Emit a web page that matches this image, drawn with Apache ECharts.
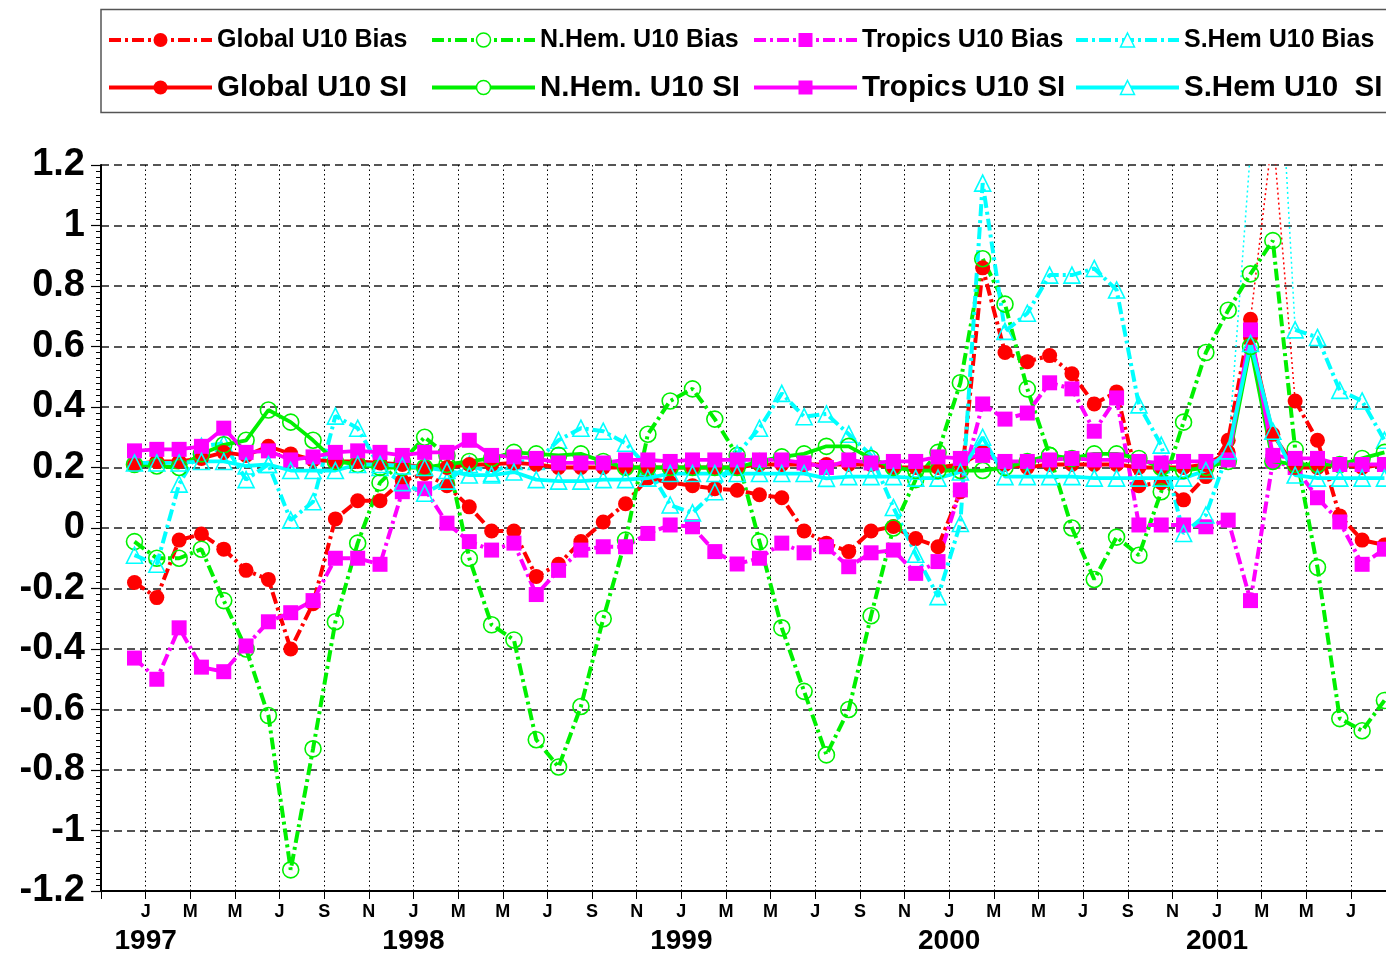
<!DOCTYPE html>
<html><head><meta charset="utf-8">
<script src="https://cdn.jsdelivr.net/npm/echarts@6/dist/echarts.min.js"></script>
<style>html,body{margin:0;padding:0;background:#fff}#c{width:1386px;height:955px}</style>
</head><body><div id="c"></div>
<script>
// ---- data (monthly, first value = Dec 1996, months counted from Jan 1997) ----
const firstMonth = -1;
const monthTickLabels = ['J','F','M','A','M','J','J','A','S','O','N','D'];
const yearLabels = ['1997','1998','1999','2000','2001'];
const yTickValues = [-1.2,-1,-0.8,-0.6,-0.4,-0.2,0,0.2,0.4,0.6,0.8,1,1.2];

const globalBias = [-0.18,-0.23,-0.04,-0.02,-0.07,-0.14,-0.17,-0.40,-0.25,0.03,
 0.09,0.09,0.155,0.18,0.14,0.07,-0.01,-0.01,-0.16,-0.12,
 -0.045,0.02,0.08,0.165,0.15,0.14,0.13,0.125,0.11,0.10,
 -0.01,-0.05,-0.078,-0.01,0.005,-0.035,-0.062,0.12,0.86,0.58,
 0.55,0.57,0.51,0.41,0.45,0.14,0.15,0.093,0.17,0.29,
 0.69,1.31,0.42,0.29,0.04,-0.04,-0.056];
const nhemBias = [-0.045,-0.10,-0.10,-0.07,-0.24,-0.40,-0.62,-1.13,-0.73,-0.31,
 -0.05,0.15,0.22,0.30,0.24,-0.10,-0.32,-0.37,-0.70,-0.79,
 -0.59,-0.30,-0.04,0.31,0.42,0.46,0.36,0.24,-0.045,-0.33,
 -0.54,-0.75,-0.60,-0.29,0.0,0.16,0.25,0.48,0.89,0.74,
 0.46,0.24,0.0,-0.17,-0.03,-0.09,0.12,0.35,0.58,0.72,
 0.84,0.95,0.26,-0.13,-0.63,-0.67,-0.57];
const tropicsBias = [-0.43,-0.50,-0.33,-0.46,-0.475,-0.39,-0.31,-0.28,-0.24,-0.10,
 -0.10,-0.12,0.12,0.13,0.016,-0.045,-0.073,-0.05,-0.22,-0.14,
 -0.073,-0.062,-0.062,-0.018,0.01,0.004,-0.078,-0.119,-0.10,-0.05,
 -0.082,-0.062,-0.128,-0.082,-0.073,-0.15,-0.111,0.126,0.41,0.36,
 0.38,0.48,0.46,0.32,0.43,0.01,0.01,0.01,0.004,0.026,
 -0.24,0.22,0.20,0.10,0.02,-0.12,-0.07];
const shemBias = [-0.09,-0.12,0.145,0.27,0.28,0.16,0.21,0.026,0.087,0.37,
 0.33,0.20,0.15,0.115,0.155,0.21,0.18,0.22,0.22,0.29,
 0.33,0.32,0.28,0.20,0.076,0.05,0.12,0.245,0.33,0.445,
 0.368,0.377,0.31,0.24,0.068,-0.087,-0.227,0.015,1.14,0.65,
 0.71,0.836,0.836,0.858,0.787,0.407,0.274,-0.018,0.043,0.252,
 1.25,2.0,0.655,0.63,0.455,0.42,0.29];
const globalSI = [0.21,0.22,0.22,0.23,0.25,0.24,0.27,0.245,0.225,0.22,
 0.22,0.215,0.21,0.20,0.20,0.21,0.21,0.215,0.21,0.20,
 0.20,0.20,0.20,0.20,0.20,0.20,0.20,0.20,0.21,0.21,
 0.21,0.21,0.21,0.21,0.20,0.20,0.20,0.21,0.25,0.21,
 0.20,0.21,0.21,0.21,0.21,0.20,0.20,0.20,0.21,0.25,
 0.63,0.31,0.20,0.20,0.21,0.20,0.21];
const nhemSI = [0.21,0.205,0.20,0.245,0.275,0.29,0.39,0.35,0.29,0.22,
 0.21,0.20,0.20,0.20,0.21,0.22,0.23,0.25,0.245,0.24,
 0.245,0.22,0.20,0.20,0.20,0.20,0.20,0.20,0.22,0.235,
 0.245,0.27,0.27,0.23,0.20,0.19,0.19,0.19,0.19,0.20,
 0.22,0.24,0.23,0.245,0.245,0.23,0.20,0.19,0.20,0.22,
 0.60,0.22,0.21,0.21,0.21,0.23,0.25];
const tropicsSI = [0.255,0.26,0.26,0.27,0.33,0.25,0.255,0.225,0.235,0.25,
 0.255,0.25,0.24,0.25,0.25,0.29,0.24,0.235,0.23,0.215,
 0.215,0.215,0.225,0.225,0.22,0.225,0.225,0.225,0.225,0.225,
 0.215,0.20,0.225,0.215,0.22,0.22,0.235,0.23,0.24,0.22,
 0.22,0.225,0.23,0.225,0.225,0.22,0.215,0.22,0.22,0.225,
 0.655,0.24,0.23,0.23,0.21,0.21,0.21];
const shemSI = [0.215,0.215,0.215,0.22,0.22,0.205,0.21,0.19,0.19,0.19,
 0.21,0.21,0.205,0.20,0.19,0.175,0.175,0.185,0.16,0.155,
 0.155,0.16,0.16,0.165,0.18,0.18,0.18,0.18,0.18,0.18,
 0.18,0.164,0.17,0.17,0.17,0.165,0.165,0.185,0.30,0.17,
 0.17,0.17,0.17,0.165,0.165,0.165,0.165,0.165,0.19,0.255,
 0.61,0.32,0.175,0.165,0.165,0.165,0.165];

// ---- styling ----
const FONT = '"Liberation Sans", Arial, sans-serif';
const YMIN = -1.2, YMAX = 1.2;
const DASHDOT = [12, 4, 3, 4];
const defs = [
  {name:'Global U10 Bias', values:globalBias, color:'#ff0000', symbol:'circle', size:15, hollow:false, bias:true, col:0},
  {name:'N.Hem. U10 Bias', values:nhemBias, color:'#00f000', symbol:'circle', size:16, hollow:true, bias:true, col:1},
  {name:'Tropics U10 Bias', values:tropicsBias, color:'#ff00ff', symbol:'rect', size:15, hollow:false, bias:true, col:2},
  {name:'S.Hem U10 Bias', values:shemBias, color:'#00ffff', symbol:'triangle', size:16, hollow:true, bias:true, col:3},
  {name:'Global U10 SI', values:globalSI, color:'#ff0000', symbol:'circle', size:15, hollow:false, bias:false, col:0},
  {name:'N.Hem. U10 SI', values:nhemSI, color:'#00f000', symbol:'circle', size:16, hollow:true, bias:false, col:1},
  {name:'Tropics U10 SI', values:tropicsSI, color:'#ff00ff', symbol:'rect', size:15, hollow:false, bias:false, col:2},
  {name:'S.Hem U10  SI', values:shemSI, color:'#00ffff', symbol:'triangle', size:16, hollow:true, bias:false, col:3}
];
const legendCols = [107, 430, 752, 1074];

const xOf = i => firstMonth + i + 0.5;
const series = [];
defs.forEach(d => {
  const out = d.values.map(v => v > YMAX || v < YMIN);
  const mainData = d.values.map((v, i) => [xOf(i), out[i] ? null : v]);
  const itemStyle = d.hollow
    ? {color:'rgba(0,0,0,0)', borderColor:d.color, borderWidth:1.6}
    : {color:d.color, borderWidth:0};
  series.push({
    name:d.name, type:'line', data:mainData, connectNulls:false,
    symbol:d.symbol, symbolSize:d.size, showAllSymbol:true,
    itemStyle:itemStyle,
    lineStyle:{color:d.color, width:d.bias ? 4 : 3.8, type:d.bias ? DASHDOT : 'solid'},
    animation:false, z: d.bias ? 2 : 3
  });
  if (out.some(Boolean)) {
    const keep = d.values.map((v, i) => out[i] || (i > 0 && out[i-1]) || (i < out.length-1 && out[i+1]));
    series.push({
      name:d.name + ' overflow', type:'line',
      data:d.values.map((v, i) => [xOf(i), keep[i] ? v : null]),
      connectNulls:false, symbol:'none',
      lineStyle:{color:d.color, width:1.5, type:[2, 3]},
      animation:false, silent:true, z:1
    });
  }
});

const legends = defs.map(d => {
  const fs = d.bias ? 25 : 29.5, lh = Math.round(fs) + 2;
  const rowCenter = d.bias ? 40 : 87.5;
  return {
    left: legendCols[d.col], top: rowCenter - lh / 2, padding: 0,
    itemWidth: 103, itemHeight: 17.5, selectedMode: false,
    data: [{name: d.name}],
    textStyle: {fontFamily: FONT, fontWeight: 'bold', fontSize: fs, lineHeight: lh, color: '#000'},
    lineStyle: {width: 4, color: d.color, type: d.bias ? DASHDOT : 'solid'},
    itemStyle: d.hollow ? {color:'#fff', borderColor:d.color, borderWidth:1.5} : {color:d.color, borderWidth:0}
  };
});

const chart = echarts.init(document.getElementById('c'), null, {renderer:'canvas'});
chart.setOption({
  animation:false,
  backgroundColor:'#fff',
  grid:{left:101, right:0, top:165, bottom:64, containLabel:false},
  legend: legends,
  graphic:[{type:'rect', silent:true, z:-1,
    shape:{x:101, y:9.5, width:1320, height:103},
    style:{fill:'none', stroke:'#555', lineWidth:1.5}}],
  xAxis:{
    type:'value', min:-2, max:55.57, interval:2,
    axisLine:{onZero:false, lineStyle:{color:'#000', width:2}},
    axisTick:{show:true, length:8, lineStyle:{color:'#000', width:1}},
    splitLine:{show:true, lineStyle:{color:'#000', width:1, type:[1.5, 3]}},
    axisLabel:{
      margin:11, showMaxLabel:false, showMinLabel:true,
      formatter: v => {
        const m = Math.round(v);
        if (m < 0) return '';
        const mi = ((m % 12) + 12) % 12;
        const letter = monthTickLabels[mi];
        if (mi === 0) return '{m|' + letter + '}\n{y|' + yearLabels[m / 12] + '}';
        return '{m|' + letter + '}';
      },
      rich:{
        m:{fontFamily:FONT, fontWeight:'bold', fontSize:18, lineHeight:20, color:'#000'},
        y:{fontFamily:FONT, fontWeight:'bold', fontSize:28, lineHeight:38, color:'#000'}
      }
    }
  },
  yAxis:{
    type:'value', min:YMIN, max:YMAX, interval:0.2,
    axisLine:{show:true, onZero:false, lineStyle:{color:'#000', width:2}},
    axisTick:{show:true, length:10, lineStyle:{color:'#000', width:1.2}},
    minorTick:{show:true, splitNumber:10, length:5, lineStyle:{color:'#000', width:1}},
    splitLine:{show:true, lineStyle:{color:'#555', width:2, type:[8, 5]}},
    axisLabel:{
      margin:16, fontFamily:FONT, fontWeight:'bold', fontSize:38, color:'#000',
      formatter: v => {
        const t = yTickValues.reduce((a, b) => Math.abs(b - v) < Math.abs(a - v) ? b : a);
        return String(t);
      }
    }
  },
  series: series
});
</script></body></html>
